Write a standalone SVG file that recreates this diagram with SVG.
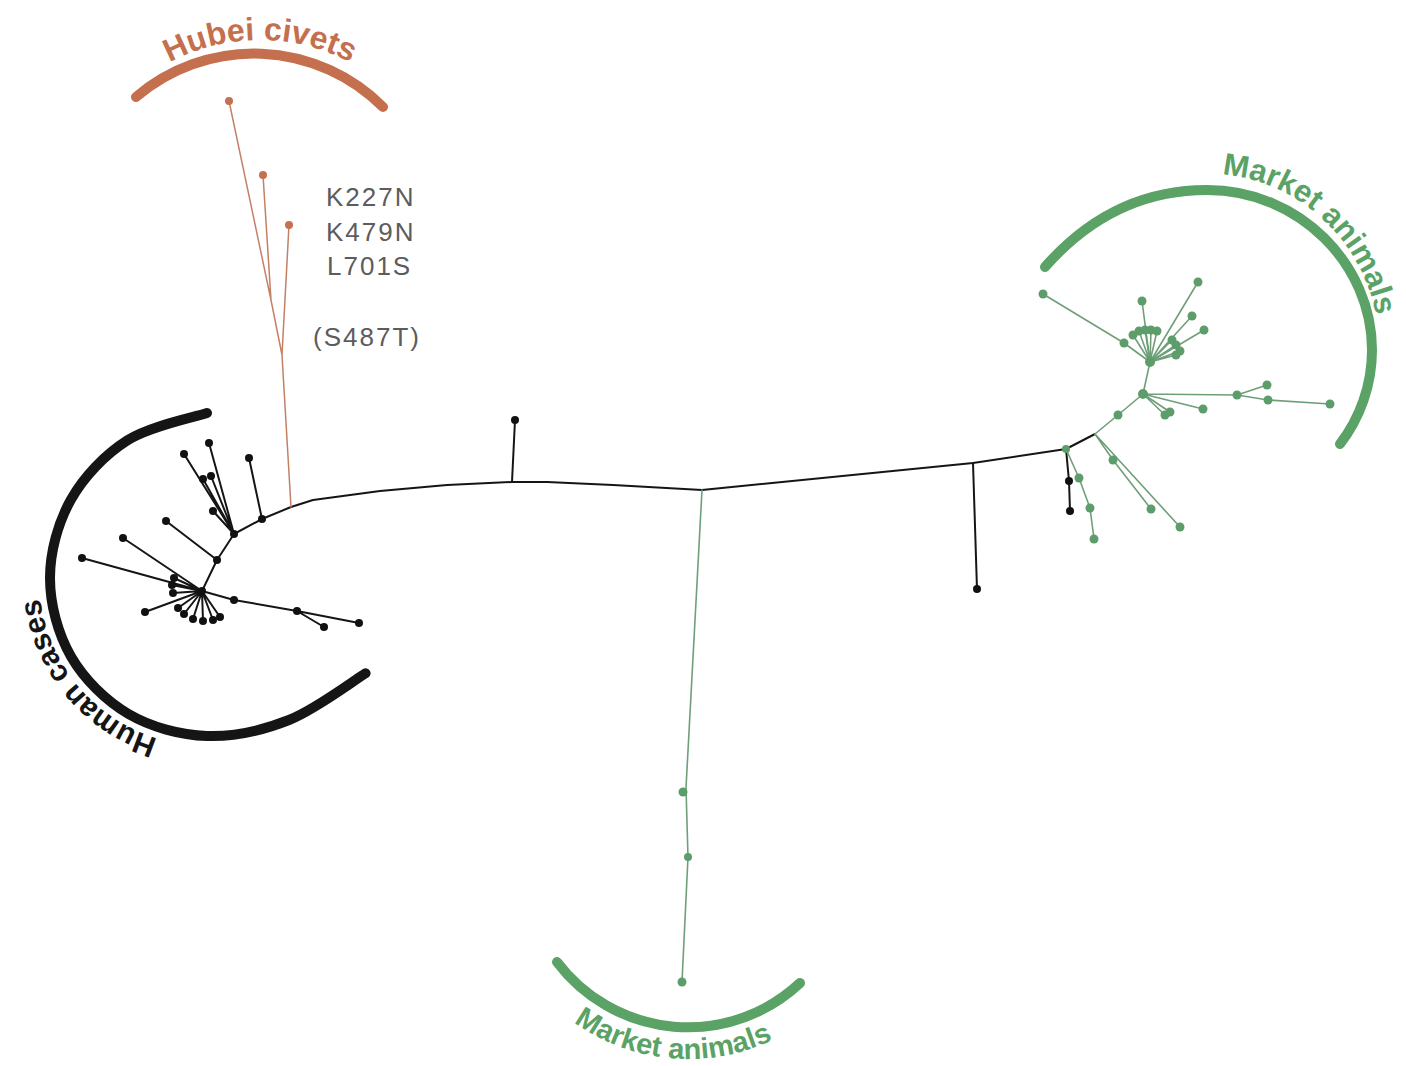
<svg xmlns="http://www.w3.org/2000/svg" width="1406" height="1066" viewBox="0 0 1406 1066">
<style>
.bg{fill:#ffffff}
.ek{fill:none;stroke:#151515;stroke-width:2;stroke-linejoin:round;stroke-linecap:round}
.eg{fill:none;stroke:#6f9f79;stroke-width:1.6;stroke-linejoin:round;stroke-linecap:round}
.ec{fill:none;stroke:#c48065;stroke-width:1.5;stroke-linejoin:round;stroke-linecap:round}
.dk{fill:#111111}
.dg{fill:#5d9d6b}
.dc{fill:#c4714f}
.arc{fill:none;stroke-width:10;stroke-linecap:round}
.lab{font-family:"Liberation Sans",Arial,sans-serif;font-weight:bold}
.mut{font-family:"Liberation Sans",Arial,sans-serif;font-size:26px;fill:#5c5c5c;letter-spacing:2px}
</style>
<defs>
<path id="tp-human" d="M157.9,738.7 A168 168 0 0 1 49.1,520.5"/>
<path id="tp-hubei" d="M93.7,136 A192 192 0 0 1 426.3,136"/>
<path id="tp-mkt1" d="M1205,174 C1305,172 1379,258 1379,345"/>
<path id="tp-mkt2" d="M510.4,945.8 A196 196 0 0 0 848.6,975.4"/>
</defs>
<rect class="bg" x="0" y="0" width="1406" height="1066"/>

<g id="connectors">
  <!-- backbone -->
  <path class="ek" d="M262,519 L291,507 L313,500 L380,491 L447,485 L512,482 L547,482 L613,485 L702,490 L973,463 L1066,449 L1095,434"/>
  <path class="eg" d="M1095,434 L1118,415 L1143,394 L1150,362"/>
  <!-- human cluster -->
  <path class="ek" d="M262,519 L234,534 L217,560 L202,591"/>
  <path class="ek" d="M262,519 L249,458"/>
  <path class="ek" d="M234,534 L209,443 M234,534 L184,454 M234,534 L203,479 M234,534 L211,476 M234,534 L213,511"/>
  <path class="ek" d="M217,560 L166,521"/>
  <path class="ek" d="M202,591 L123,538 M202,591 L82,558 M202,591 L174,578 M202,591 L172,585 M202,591 L173,593 M202,591 L145,612"/>
  <path class="ek" d="M202,591 L178,608 M202,591 L184,614 M202,591 L193,619 M202,591 L203,621 M202,591 L213,620 M202,591 L220,617"/>
  <path class="ek" d="M202,591 L234,600 L297,611 L359,623 M297,611 L324,627"/>
  <path class="ek" d="M512,482 L515,420"/>
  <path class="ek" d="M973,463 L977,589"/>
  <path class="ek" d="M1066,449 L1069,481 L1070,511"/>
  <!-- civets -->
  <path class="ec" d="M291,507 L282,355 L271,300 L229,101 M271,300 L263,175 M282,355 L289,225"/>
  <!-- bottom market stem -->
  <path class="eg" d="M702,490 L686,788 L688,857 L682,982"/>
  <!-- right market cluster -->
  <path class="eg" d="M1066,449 L1079,478 L1090,508 L1094,539"/>
  <path class="eg" d="M1095,434 L1113,460 L1151,509 M1095,434 L1180,527"/>
  <path class="eg" d="M1143,394 L1237,395 L1268,400 L1330,404 M1237,395 L1267,385 M1143,394 L1203,409 M1143,394 L1165,415 M1143,394 L1170,412"/>
  <path class="eg" d="M1150,362 L1124,343 L1043,294 M1150,362 L1142,301 M1150,362 L1198,282 M1150,362 L1192,316 M1150,362 L1204,330"/>
  <path class="eg" d="M1150,362 L1133,335 M1150,362 L1139,331 M1150,362 L1145,330 M1150,362 L1151,330 M1150,362 L1157,331 M1150,362 L1172,340 M1150,362 L1176,345 M1150,362 L1180,351 M1150,362 L1176,355"/>
</g>

<!-- clade arcs and labels -->
<g id="clade-human">
  <path class="arc" stroke="#151515" d="M207,413 C193.75,417.55 150.2,425.9 127.5,440.3 C104.8,454.7 83.9,476.55 71,499.5 C58.1,522.45 50,551.8 50,578 C50,604.2 57.9,633.8 71,656.5 C84.1,679.2 105.8,700.75 128.5,714 C151.2,727.25 180.25,735 207,736 C233.75,737 262.6,730.45 289,720 C315.4,709.55 352.8,681.1 365.6,673.3"/>
  <text class="lab" font-size="30" fill="#151515"><textPath href="#tp-human">Human cases</textPath></text>
</g>
<g id="clade-hubei">
  <path class="arc" stroke="#c46f4d" d="M136,97 A182 182 0 0 1 383,107"/>
  <text class="lab" font-size="32" fill="#c46f4d" text-anchor="middle"><textPath href="#tp-hubei" startOffset="50%">Hubei civets</textPath></text>
</g>
<g id="clade-market-right">
  <path class="arc" stroke="#5aa265" d="M1045,267 C1095,210 1150,190 1207,190 C1300,190 1372,265 1372,350 C1372,385 1360,418 1340,444"/>
  <text class="lab" font-size="31" fill="#5aa265"><textPath href="#tp-mkt1" startOffset="17">Market animals</textPath></text>
</g>
<g id="clade-market-bottom">
  <path class="arc" stroke="#5aa265" d="M557,962 A164 164 0 0 0 800,983"/>
  <text class="lab" font-size="29" fill="#5aa265" text-anchor="middle"><textPath href="#tp-mkt2" startOffset="50%">Market animals</textPath></text>
</g>

<g id="mutations">
  <text class="mut" x="326" y="206">K227N</text>
  <text class="mut" x="326" y="241">K479N</text>
  <text class="mut" x="327" y="275">L701S</text>
  <text class="mut" x="313" y="346">(S487T)</text>
</g>

<!-- human nodes -->
<g id="n-h-A"><circle class="dk" cx="202" cy="591" r="4"/></g>
<g id="n-h-B"><circle class="dk" cx="217" cy="560" r="4"/></g>
<g id="n-h-C"><circle class="dk" cx="234" cy="534" r="4"/></g>
<g id="n-h-D"><circle class="dk" cx="262" cy="519" r="4"/></g>
<g id="n-h-1"><circle class="dk" cx="249" cy="458" r="4"/></g>
<g id="n-h-2"><circle class="dk" cx="209" cy="443" r="4"/></g>
<g id="n-h-3"><circle class="dk" cx="184" cy="454" r="4"/></g>
<g id="n-h-4"><circle class="dk" cx="203" cy="479" r="4"/></g>
<g id="n-h-5"><circle class="dk" cx="211" cy="476" r="4"/></g>
<g id="n-h-6"><circle class="dk" cx="213" cy="511" r="4"/></g>
<g id="n-h-7"><circle class="dk" cx="166" cy="521" r="4"/></g>
<g id="n-h-8"><circle class="dk" cx="123" cy="538" r="4"/></g>
<g id="n-h-9"><circle class="dk" cx="82" cy="558" r="4"/></g>
<g id="n-h-10"><circle class="dk" cx="174" cy="578" r="4"/></g>
<g id="n-h-11"><circle class="dk" cx="172" cy="585" r="4"/></g>
<g id="n-h-12"><circle class="dk" cx="173" cy="593" r="4"/></g>
<g id="n-h-13"><circle class="dk" cx="145" cy="612" r="4"/></g>
<g id="n-h-14"><circle class="dk" cx="178" cy="608" r="4"/></g>
<g id="n-h-15"><circle class="dk" cx="184" cy="614" r="4"/></g>
<g id="n-h-16"><circle class="dk" cx="193" cy="619" r="4"/></g>
<g id="n-h-17"><circle class="dk" cx="203" cy="621" r="4"/></g>
<g id="n-h-18"><circle class="dk" cx="213" cy="620" r="4"/></g>
<g id="n-h-19"><circle class="dk" cx="220" cy="617" r="4"/></g>
<g id="n-h-20"><circle class="dk" cx="234" cy="600" r="4"/></g>
<g id="n-h-21"><circle class="dk" cx="297" cy="611" r="4"/></g>
<g id="n-h-22"><circle class="dk" cx="359" cy="623" r="4"/></g>
<g id="n-h-23"><circle class="dk" cx="324" cy="627" r="4"/></g>
<!-- backbone side leaves -->
<g id="n-b-1"><circle class="dk" cx="515" cy="420" r="4"/></g>
<g id="n-b-2"><circle class="dk" cx="977" cy="589" r="4"/></g>
<g id="n-b-3"><circle class="dk" cx="1069" cy="481" r="4"/></g>
<g id="n-b-4"><circle class="dk" cx="1070" cy="511" r="4"/></g>
<!-- civets -->
<g id="n-c-1"><circle class="dc" cx="229" cy="101" r="4"/></g>
<g id="n-c-2"><circle class="dc" cx="263" cy="175" r="4"/></g>
<g id="n-c-3"><circle class="dc" cx="289" cy="225" r="4"/></g>
<!-- bottom market -->
<g id="n-m-1"><circle class="dg" cx="683" cy="792" r="4.5"/></g>
<g id="n-m-2"><circle class="dg" cx="688" cy="857" r="4"/></g>
<g id="n-m-3"><circle class="dg" cx="682" cy="982" r="4.5"/></g>
<!-- right market -->
<g id="n-r-1"><circle class="dg" cx="1066" cy="449" r="4"/></g>
<g id="n-r-2"><circle class="dg" cx="1079" cy="478" r="4.5"/></g>
<g id="n-r-3"><circle class="dg" cx="1090" cy="508" r="4.5"/></g>
<g id="n-r-4"><circle class="dg" cx="1094" cy="539" r="4.5"/></g>
<g id="n-r-5"><circle class="dg" cx="1113" cy="460" r="4.5"/></g>
<g id="n-r-6"><circle class="dg" cx="1151" cy="509" r="4.5"/></g>
<g id="n-r-7"><circle class="dg" cx="1180" cy="527" r="4.5"/></g>
<g id="n-r-8"><circle class="dg" cx="1118" cy="415" r="4.5"/></g>
<g id="n-r-9"><circle class="dg" cx="1143" cy="394" r="5"/></g>
<g id="n-r-10"><circle class="dg" cx="1237" cy="395" r="4.5"/></g>
<g id="n-r-11"><circle class="dg" cx="1268" cy="400" r="4.5"/></g>
<g id="n-r-12"><circle class="dg" cx="1330" cy="404" r="4.5"/></g>
<g id="n-r-13"><circle class="dg" cx="1267" cy="385" r="4.5"/></g>
<g id="n-r-14"><circle class="dg" cx="1203" cy="409" r="4.5"/></g>
<g id="n-r-15"><circle class="dg" cx="1165" cy="415" r="4.5"/></g>
<g id="n-r-16"><circle class="dg" cx="1170" cy="412" r="4.5"/></g>
<g id="n-r-17"><circle class="dg" cx="1150" cy="362" r="5"/></g>
<g id="n-r-18"><circle class="dg" cx="1124" cy="343" r="4.5"/></g>
<g id="n-r-19"><circle class="dg" cx="1043" cy="294" r="4.5"/></g>
<g id="n-r-20"><circle class="dg" cx="1142" cy="301" r="4.5"/></g>
<g id="n-r-21"><circle class="dg" cx="1198" cy="282" r="4.5"/></g>
<g id="n-r-22"><circle class="dg" cx="1192" cy="316" r="4.5"/></g>
<g id="n-r-23"><circle class="dg" cx="1204" cy="330" r="4.5"/></g>
<g id="n-r-24"><circle class="dg" cx="1133" cy="335" r="4.5"/></g>
<g id="n-r-25"><circle class="dg" cx="1139" cy="331" r="4.5"/></g>
<g id="n-r-26"><circle class="dg" cx="1145" cy="330" r="4.5"/></g>
<g id="n-r-27"><circle class="dg" cx="1151" cy="330" r="4.5"/></g>
<g id="n-r-28"><circle class="dg" cx="1157" cy="331" r="4.5"/></g>
<g id="n-r-29"><circle class="dg" cx="1172" cy="340" r="4.5"/></g>
<g id="n-r-30"><circle class="dg" cx="1176" cy="345" r="4.5"/></g>
<g id="n-r-31"><circle class="dg" cx="1180" cy="351" r="4.5"/></g>
<g id="n-r-32"><circle class="dg" cx="1176" cy="355" r="4.5"/></g>
</svg>
